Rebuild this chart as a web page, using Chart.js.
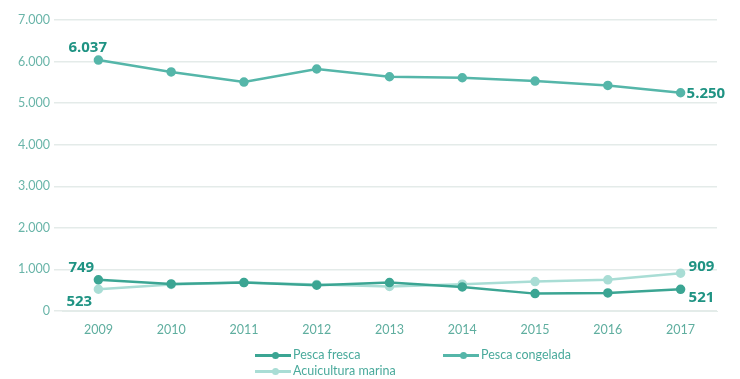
<!DOCTYPE html>
<html>
<head>
<meta charset="utf-8">
<script src="https://cdn.jsdelivr.net/npm/chart.js@4"></script>
<style>
  body { margin: 0; background: #fff; }
  #wrap { position: relative; width: 740px; height: 379px; }
  .leg { position: absolute; font-family: Lato, "Open Sans", sans-serif; font-size: 12.5px; color: #4aaa9c; display: flex; align-items: center; }
  .mk { position: relative; width: 36px; height: 10px; margin-right: 2px; }
  .mk i { position: absolute; left: 0; right: 0; top: 4px; height: 3px; }
  .mk b { position: absolute; left: 17px; top: 2px; width: 7px; height: 7px; border-radius: 50%; }
</style>
</head>
<body>
<div id="wrap">
  <canvas id="chart" width="740" height="379"></canvas>
  <div class="leg" style="left:255px; top:347px;"><span class="mk"><i style="background:#3ba593"></i><b style="background:#3ba593"></b></span>Pesca fresca</div>
  <div class="leg" style="left:443px; top:347px;"><span class="mk"><i style="background:#55b6a9"></i><b style="background:#55b6a9"></b></span>Pesca congelada</div>
  <div class="leg" style="left:255px; top:363px;"><span class="mk"><i style="background:#a9ddd5"></i><b style="background:#a9ddd5"></b></span>Acuicultura marina</div>
</div>
<script>
const years = ['2009', '2010', '2011', '2012', '2013', '2014', '2015', '2016', '2017'];
const pescaFresca = [749, 652, 684, 620, 684, 580, 418, 435, 521];
const pescaCongelada = [6037, 5750, 5507, 5821, 5635, 5611, 5531, 5427, 5250];
const acuicultura = [523, 640, 683, 640, 590, 645, 708, 750, 909];
const yTicks = [0, 1000, 2000, 3000, 4000, 5000, 6000, 7000];

const fmt = v => v.toLocaleString('de-DE');

// etiquetas de primer y último valor
const endLabels = {
  id: 'endLabels',
  afterDatasetsDraw(chart) {
    const ctx = chart.ctx;
    ctx.save();
    ctx.font = 'bold 15px "Open Sans", Lato, sans-serif';
    ctx.fillStyle = '#1f9383';
    const put = (ds, i, dx, dy, align) => {
      const pt = chart.getDatasetMeta(ds).data[i];
      const val = chart.data.datasets[ds].data[i];
      ctx.textAlign = align;
      ctx.textBaseline = 'middle';
      ctx.fillText(fmt(val), pt.x + dx, pt.y + dy);
    };
    put(1, 0, -30, -12, 'left');
    put(1, 8, 6, 1, 'left');
    put(0, 0, -30, -12, 'left');
    put(2, 0, -32, 12, 'left');
    put(2, 8, 8, -6, 'left');
    put(0, 8, 8, 8, 'left');
    ctx.restore();
  }
};

new Chart(document.getElementById('chart'), {
  type: 'line',
  data: {
    labels: years,
    datasets: [
      {
        label: 'Pesca fresca',
        data: pescaFresca,
        borderColor: '#3ba593',
        backgroundColor: '#3ba593',
        borderWidth: 2.5,
        pointRadius: 3.5,
        order: 1
      },
      {
        label: 'Pesca congelada',
        data: pescaCongelada,
        borderColor: '#55b6a9',
        backgroundColor: '#55b6a9',
        borderWidth: 2.5,
        pointRadius: 3.5,
        order: 0
      },
      {
        label: 'Acuicultura marina',
        data: acuicultura,
        borderColor: '#a9ddd5',
        backgroundColor: '#a9ddd5',
        borderWidth: 2.5,
        pointRadius: 3.5,
        order: 2
      }
    ]
  },
  options: {
    responsive: false,
    animation: false,
    layout: { padding: { top: 20, right: 23, bottom: 39, left: 0 } },
    plugins: {
      legend: { display: false },
      tooltip: { enabled: false }
    },
    scales: {
      x: {
        offset: true,
        grid: { display: false },
        border: { color: '#e3ece9' },
        ticks: { color: '#5fae9f', font: { family: 'Lato', size: 12.5 }, padding: 3 }
      },
      y: {
        min: 0,
        max: 7000,
        afterBuildTicks: axis => { axis.ticks = yTicks.map(v => ({ value: v })); },
        afterFit: axis => { axis.width = 62; },
        grid: { color: '#e4ebe9', lineWidth: 1.5 },
        border: { display: false },
        ticks: {
          color: '#6ab5a9',
          font: { family: 'Lato', size: 12.5 },
          padding: 4,
          callback: v => fmt(v)
        }
      }
    }
  },
  plugins: [endLabels]
});
</script>
</body>
</html>
